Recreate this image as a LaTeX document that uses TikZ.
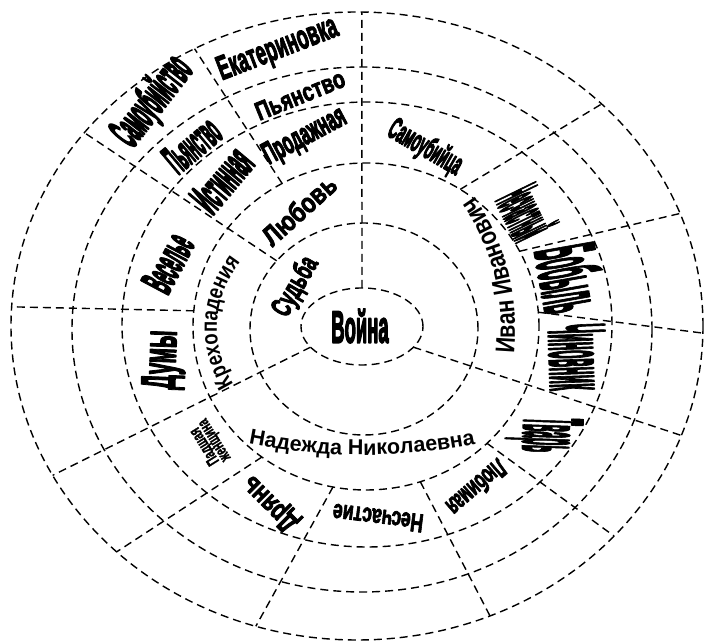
\documentclass[tikz,border=0pt]{standalone}
\usepackage{graphicx}
\usepackage{fontspec}
\setmainfont{Liberation Sans}
\newfontfamily\archfont[FakeStretch=0.8]{Liberation Sans}
\usetikzlibrary{decorations.text}

% outlined (fill + stroke) glyphs for the heavy word-art labels
\newcommand\heavyon[1]{\special{pdf:literal direct 2 Tr #1 w 1 j}}
\newcommand\heavyoff{\special{pdf:literal direct 0 Tr}}
% condensed word-art label: [stroke], size, horizontal squeeze, text
\newcommand\wordart[4][1]{{\bfseries\fontsize{#2}{#2}\selectfont\scalebox{#3}[1]{\heavyon{#1}#4\heavyoff}}}

\begin{document}
\begin{tikzpicture}[x=1pt,y=1pt,
  ring/.style={line width=1.4pt, dash pattern=on 8pt off 5pt},
  spoke/.style={line width=1.4pt, dash pattern=on 8pt off 5pt},
  word/.style={inner sep=0pt},
  arcword/.style={decorate, decoration={text along path, text align=center, text={#1}}},
]
\useasboundingbox (0,0) rectangle (705,642);
\fill[white] (0,0) rectangle (705,642);

% ---- centres of the six rings ----
\coordinate (c1) at (362,315.5);
\coordinate (c2) at (364,313);
\coordinate (c3) at (366,315.5);
\coordinate (c4) at (367,317.5);
\coordinate (c5) at (362,312.5);
\coordinate (c6) at (357,316);

\draw[ring] (c1) ellipse [x radius=61,  y radius=38.5];
\draw[ring] (c2) ellipse [x radius=114, y radius=106];
\draw[ring] (c3) ellipse [x radius=173, y radius=163.5];
\draw[ring] (c4) ellipse [x radius=245, y radius=222.5];
\draw[ring] (c5) ellipse [x radius=290, y radius=262.5];
\draw[ring] (c6) ellipse [x radius=346, y radius=314];

% ---- spoke end points on the rings ----
\path (c1) ++(90:61 and 38.5)      coordinate (A1);
\path (c6) ++(89.2:346 and 314)    coordinate (A6);
\path (c1) ++(212.5:61 and 38.5)   coordinate (B1);
\path (c6) ++(208.4:346 and 314)   coordinate (B6);
\path (c1) ++(-32.5:61 and 38.5)   coordinate (C1);
\path (c6) ++(-20.4:346 and 314)   coordinate (C6);
\path (c2) ++(140:114 and 106)     coordinate (E2);
\path (c6) ++(142:346 and 314)     coordinate (E6);
\path (c3) ++(119:173 and 163.5)   coordinate (F3);
\path (c6) ++(118:346 and 314)     coordinate (F6);
\path (c3) ++(174.5:173 and 163.5) coordinate (G3);
\path (c6) ++(176.5:346 and 314)   coordinate (G6);
\path (c3) ++(57:173 and 163.5)    coordinate (D3);
\path (c6) ++(45:346 and 314)      coordinate (D6);
\path (c3) ++(27.4:173 and 163.5)  coordinate (K3);
\path (c6) ++(21:346 and 314)      coordinate (K6);
\path (c3) ++(5:173 and 163.5)     coordinate (L3);
\path (c6) ++(-1.3:346 and 314)    coordinate (L6);
\path (c3) ++(-45.6:173 and 163.5) coordinate (M3);
\path (c6) ++(-42:346 and 314)     coordinate (M6);
\path (c3) ++(-71.7:173 and 163.5) coordinate (J3);
\path (c6) ++(-67.4:346 and 314)   coordinate (J6);
\path (c3) ++(-101:173 and 163.5)  coordinate (I3);
\path (c6) ++(-107:346 and 314)    coordinate (I6);
\path (c3) ++(233:173 and 163.5)   coordinate (H3);
\path (c6) ++(226:346 and 314)     coordinate (H6);

\foreach \s in {A,B,C} \draw[spoke] (\s1) -- (\s6);
\draw[spoke] (E2) -- (E6);
\foreach \s in {F,G,D,K,L,M,J,I,H} \draw[spoke] (\s3) -- (\s6);

% ---- centre ----
\node[word] (voina) at (360,316) {\wordart[2]{45}{0.41}{Война}};

% ---- first band ----
\node[word, rotate=60] (sudba) at (296,355) {\wordart[1.2]{29}{0.6}{Судьба}};

% ---- second band ----
\node[word, rotate=42] (lyubov) at (299,432) {\wordart[0.8]{28}{0.8}{Любовь}};
\path[arcword={|\archfont\bfseries\fontsize{23}{23}\selectfont|Крехопадения}]
  (365,314) ++(232.5:148 and 122) arc[start angle=232.5, end angle=122.5, x radius=148, y radius=122];
\path[arcword={|\archfont\bfseries\fontsize{27}{27}\selectfont|Иван Иванович}]
  (365,312) ++(-30:150 and 195) arc[start angle=-30, end angle=70, x radius=150, y radius=195];
\path[arcword={|\bfseries\fontsize{21.5}{21.5}\selectfont|Надежда Николаевна}]
  (362,770) ++(250:583) arc[start angle=250, end angle=290, radius=583];

% ---- third band ----
\node[word, rotate=28]  (prodazh)    at (305,505) {\wordart[1.6]{31}{0.52}{Продажная}};
\node[word, rotate=50]  (istin)      at (222,462) {\wordart[3]{46}{0.31}{Истинная}};
\node[word, rotate=-30] (samoub)     at (425,494) {\wordart[1.6]{31}{0.42}{Самоубийца}};
\node[word, rotate=-64] (neschastny) at (527,430) {\wordart[4]{62}{0.13}{Несчастный}};
\node[word, rotate=-80] (bobyl)      at (571,364) {\wordart[3]{86}{0.19}{Бобыль}};
\node[word, rotate=-88] (chinov)     at (577,285) {\wordart[3.5]{80}{0.17}{Чиновник}};
\node[word, rotate=-92] (tvar)       at (544,207) {\wordart[3.5]{84}{0.14}{Тварь}};
\node[word, rotate=221] (lyubim)     at (477,154) {\wordart[1]{27}{0.56}{Любимая}};
\node[word, rotate=173] (neschastie) at (378,124) {\wordart[0.8]{26}{0.68}{Несчастие}};
\node[word, rotate=135] (dryan)      at (271,139) {\wordart[0.9]{29}{0.74}{Дрянь}};
\node[word, rotate=122, align=center]
  (padshaya) at (210,199) {\wordart[0.3]{17}{0.62}{Падшая}\\[-2pt]\wordart[0.3]{17}{0.62}{женщина}};
\node[word, rotate=88]  (dumy)       at (164,282) {\wordart[1.8]{48}{0.43}{Думы}};
\node[word, rotate=62]  (vesel)      at (168,379) {\wordart[2.5]{44}{0.32}{Веселье}};

% ---- fourth band ----
\node[word, rotate=22]  (pyan)       at (300,547) {\wordart[0.8]{26}{0.76}{Пьянство}};
\node[word, rotate=40]  (pyanleft)   at (192,497) {\wordart[2.5]{42}{0.3}{Пьянство}};

% ---- fifth band ----
\node[word, rotate=21]  (ekater)     at (278,592) {\wordart[1.3]{34}{0.54}{Екатериновка}};
\node[word, rotate=52]  (samoubst)   at (153,540) {\wordart[3]{46}{0.3}{Самоубийство}};
\end{tikzpicture}
\end{document}
